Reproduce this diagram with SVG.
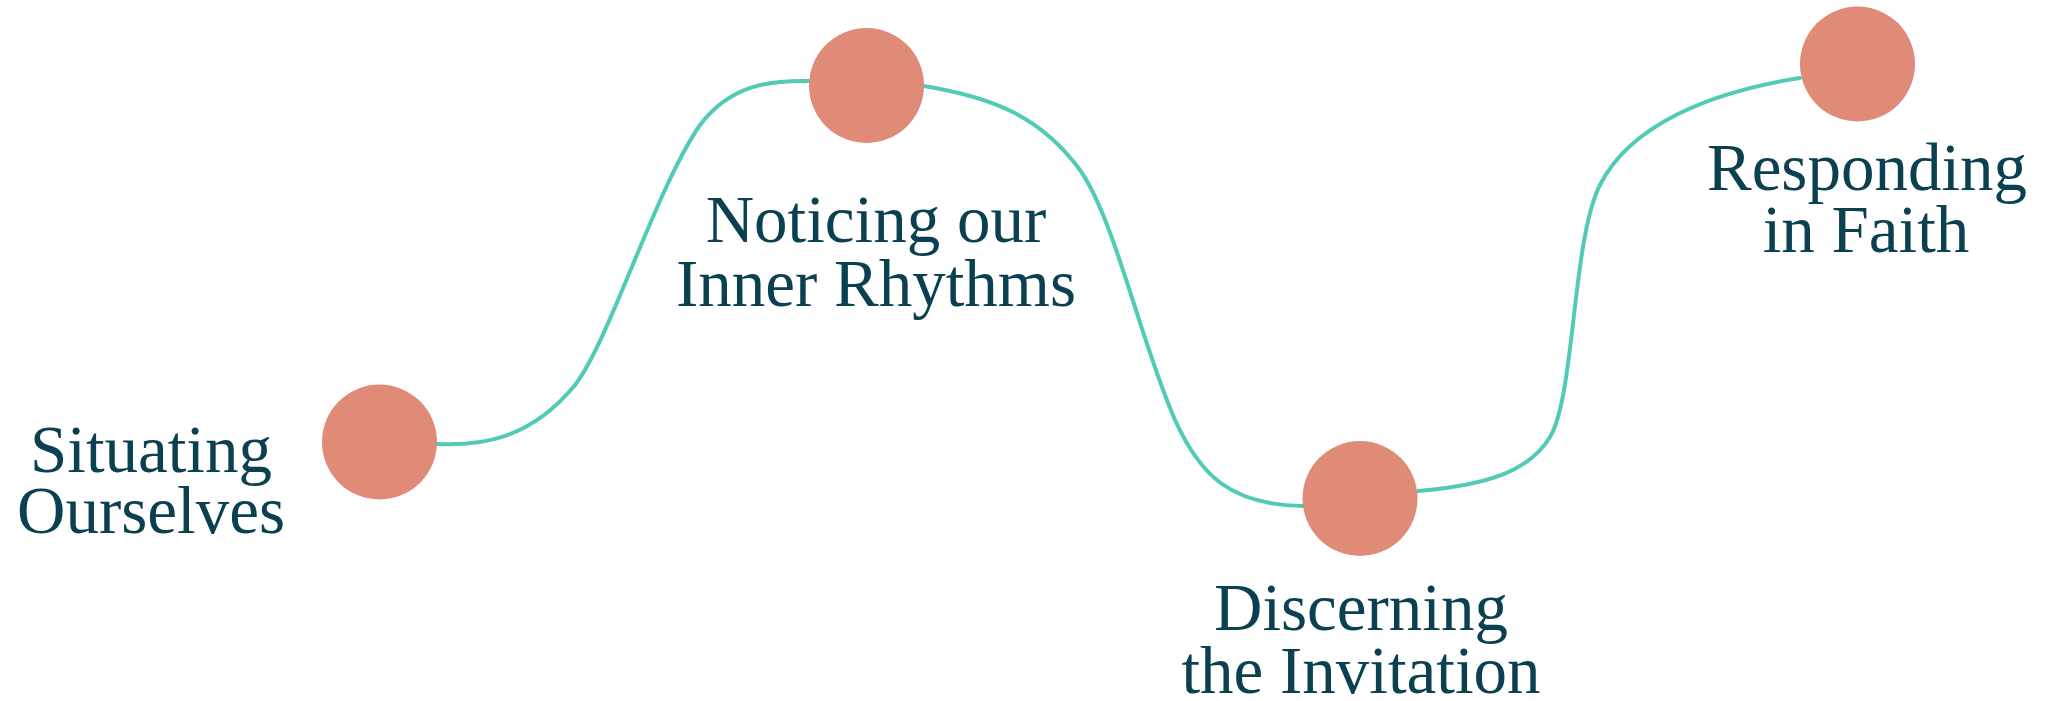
<svg xmlns="http://www.w3.org/2000/svg" width="2048" height="701" viewBox="0 0 2048 701">
<style>
.link{fill:none;stroke:#52CBB6;stroke-width:4;stroke-linecap:round}
.dot{fill:#E08A78}
.lbl{font-family:"Liberation Serif","DejaVu Serif",serif;font-size:67px;fill:#0B4050;text-anchor:middle}
</style>
<rect width="2048" height="701" fill="#FFFFFF"/>
<g id="connectors">
<path class="link" d="M 437 444 C 480 446, 530 440, 575 385 C 610 340, 655 190, 700 125 C 730 85, 770 80, 809 81"/>
<path class="link" d="M 924 86 C 990 97, 1040 115, 1080 170 C 1115 220, 1140 340, 1175 420 C 1200 475, 1230 505, 1303 506"/>
<path class="link" d="M 1418 491 C 1490 485, 1530 470, 1550 437 C 1575 395, 1572 240, 1600 185 C 1630 125, 1710 92, 1800 78"/>
</g>
<g id="node-situating">
<circle class="dot" cx="379.5" cy="442" r="57.5"/>
<text class="lbl" x="151" y="472">Situating</text>
<text class="lbl" x="151" y="533">Ourselves</text>
</g>
<g id="node-noticing">
<circle class="dot" cx="866.5" cy="85.5" r="57.5"/>
<text class="lbl" x="876" y="242">Noticing our</text>
<text class="lbl" x="876" y="306">Inner Rhythms</text>
</g>
<g id="node-discerning">
<circle class="dot" cx="1360" cy="498.5" r="57.5"/>
<text class="lbl" x="1361" y="630">Discerning</text>
<text class="lbl" x="1361" y="693">the Invitation</text>
</g>
<g id="node-responding">
<circle class="dot" cx="1857.5" cy="64" r="57.5"/>
<text class="lbl" x="1867" y="190">Responding</text>
<text class="lbl" x="1866" y="252">in Faith</text>
</g>
</svg>
